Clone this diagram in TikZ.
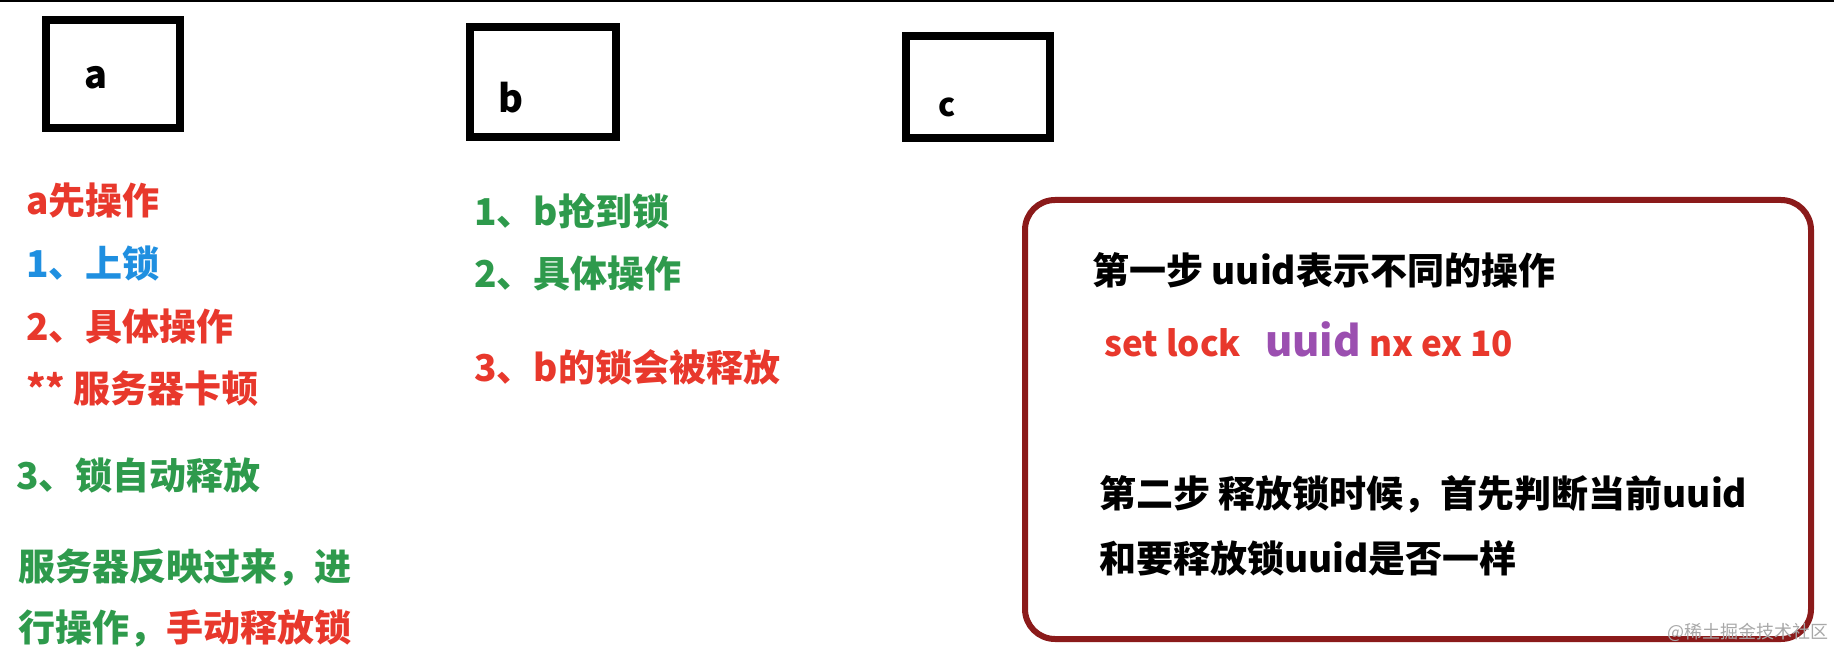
\documentclass[tikz,border=0pt]{standalone}
\usepackage{fontspec}
\setmainfont{Noto Sans CJK SC}
\usepackage{xcolor}
\usepackage{tikz}
\usetikzlibrary{positioning}
\usetikzlibrary{calc}

\definecolor{lockred}{HTML}{E8382C}
\definecolor{lockgreen}{HTML}{2E9A4C}
\definecolor{lockblue}{HTML}{1F8FE0}
\definecolor{lockpurple}{HTML}{9B4FB0}
\definecolor{framered}{HTML}{8B1A1A}
\definecolor{markgray}{HTML}{A8A8A8}

\begin{document}
\begin{tikzpicture}[
  x=1pt, y=-1pt,
  font=\bfseries\fontsize{37}{40}\selectfont,
  client/.style={draw, line width=8pt, inner sep=0pt},
  txt/.style={anchor=west, inner sep=0pt},
  note/.style={draw=framered, line width=6pt, rounded corners=30pt, inner sep=0pt}
]
\useasboundingbox (0,0) rectangle (1834,647);
\draw[line width=2pt] (0,1) -- (1834,1);

% clients a, b, c
\node[client, minimum width=134pt, minimum height=108pt] (A) at (113,74) {};
\node[font=\bfseries\fontsize{38}{40}\selectfont] (A_label) at ([xshift=-17pt,yshift=-4pt]A.center) {a};
\node[client, minimum width=146pt, minimum height=110pt] (B) at (543,82) {};
\node[font=\bfseries\fontsize{38}{40}\selectfont] (B_label) at ([xshift=-32pt,yshift=-16pt]B.center) {b};
\node[client, minimum width=144pt, minimum height=102pt] (C) at (978,87) {};
\node[font=\bfseries\fontsize{32}{36}\selectfont] (C_label) at ([xshift=-31pt,yshift=-20pt]C.center) {c};

% steps of a
\node[txt, lockred]   (a0) at (26,201) {a先操作};
\node[txt, lockblue]  (a1) at (26,264) {1、上锁};
\node[txt, lockred]   (a2) at (26,326) {2、具体操作};
\node[txt, lockred]   (a3) at (26,389) {** 服务器卡顿};
\node[txt, lockgreen] (a4) at (16,475) {3、锁自动释放};
\node[txt, lockgreen] (a5) at (18,568) {服务器反映过来，进};
\node[txt, lockgreen] (a6) at (18,628) {行操作，\textcolor{lockred}{手动释放锁}};

% steps of b
\node[txt, lockgreen] (b1) at (474,211) {1、b抢到锁};
\node[txt, lockgreen] (b2) at (474,273) {2、具体操作};
\node[txt, lockred]   (b3) at (474,367) {3、b的锁会被释放};

% note box
\node[note, minimum width=786pt, minimum height=439pt] (N) at (1418,419.5) {};
\node[txt] (n1) at (1092,270) {第一步 uuid表示不同的操作};
\node[txt, lockred, font=\bfseries\fontsize{35}{40}\selectfont] (n2) at (1104,339)
  {set lock\ \ \ \textcolor{lockpurple}{\fontsize{42}{46}\selectfont uuid} nx ex 10};
\node[txt] (n3) at (1099,494) {第二步 释放锁时候，首先判断当前uuid};
\node[txt] (n4) at (1099,558) {和要释放锁uuid是否一样};

\node[txt, markgray, font=\fontsize{18}{20}\selectfont] (wm) at (1667,632) {@稀土掘金技术社区};

\end{tikzpicture}
\end{document}
